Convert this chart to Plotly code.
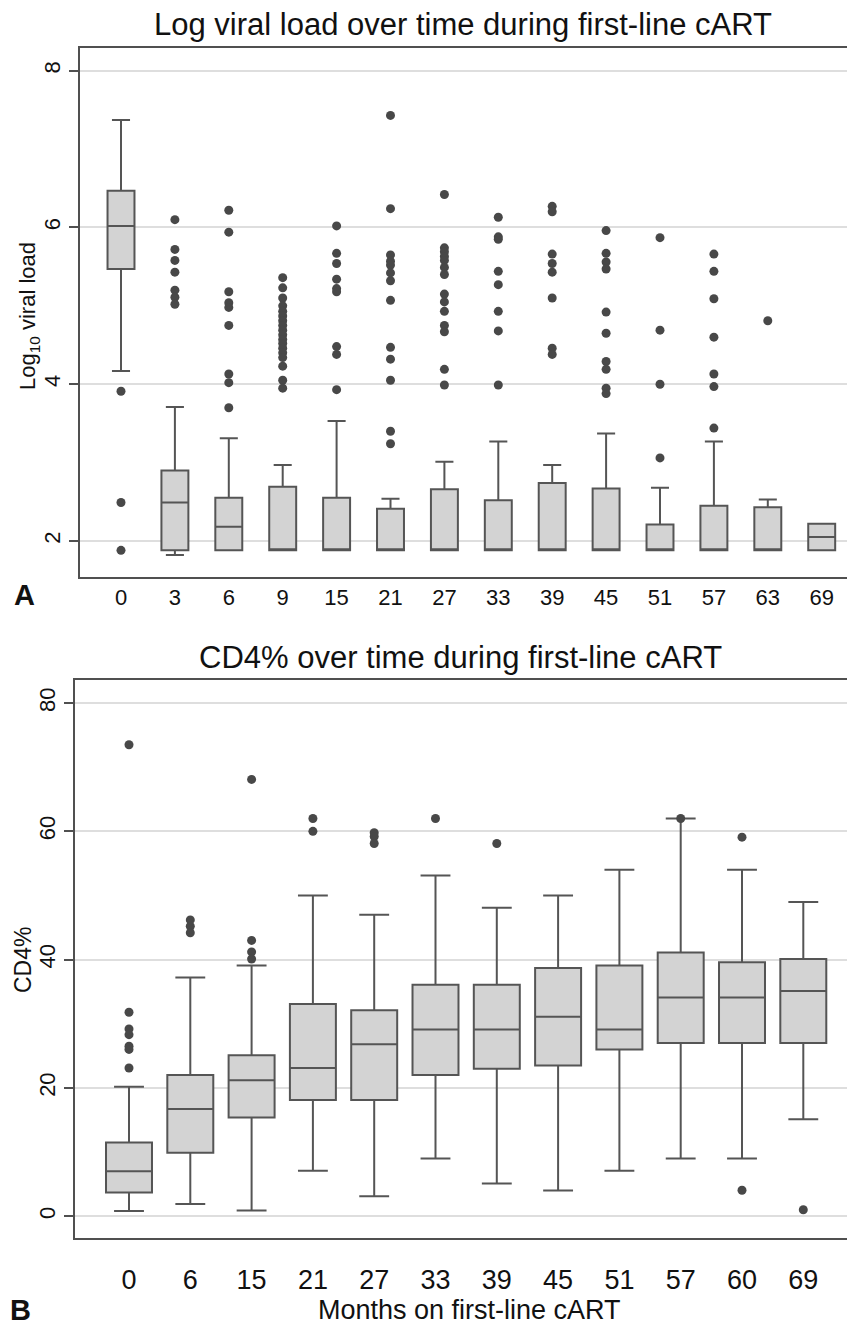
import plotly.graph_objects as go

# ---------------- Panel A: log10 viral load ----------------
months_a = ["0", "3", "6", "9", "15", "21", "27", "33", "39", "45", "51", "57", "63", "69"]
vl_q1 = [5.47, 1.88, 1.88, 1.88, 1.88, 1.88, 1.88, 1.88, 1.88, 1.88, 1.88, 1.88, 1.88, 1.88]
vl_median = [6.02, 2.49, 2.18, 1.88, 1.88, 1.88, 1.88, 1.88, 1.88, 1.88, 1.88, 1.88, 1.88, 2.05]
vl_q3 = [6.47, 2.90, 2.55, 2.69, 2.55, 2.41, 2.66, 2.52, 2.74, 2.67, 2.21, 2.45, 2.43, 2.22]
vl_lower = [4.17, 1.82, 1.88, 1.88, 1.88, 1.88, 1.88, 1.88, 1.88, 1.88, 1.88, 1.88, 1.88, 1.88]
vl_upper = [7.37, 3.71, 3.31, 2.97, 3.53, 2.54, 3.01, 3.27, 2.97, 3.37, 2.68, 3.27, 2.53, 2.22]
vl_outliers = [
    [3.91, 2.49, 1.88],
    [6.10, 5.72, 5.58, 5.43, 5.20, 5.11, 5.02],
    [6.22, 5.94, 5.18, 5.04, 4.98, 4.75, 4.13, 4.02, 3.70],
    [5.36, 5.23, 5.10, 5.00, 4.93, 4.87, 4.81, 4.75, 4.69, 4.63, 4.57, 4.52, 4.46, 4.40, 4.34, 4.23, 4.05, 3.95],
    [6.02, 5.67, 5.54, 5.34, 5.22, 5.18, 4.48, 4.38, 3.93],
    [7.43, 6.24, 5.65, 5.57, 5.52, 5.42, 5.32, 5.07, 4.47, 4.32, 4.05, 3.40, 3.24],
    [6.42, 5.74, 5.69, 5.63, 5.58, 5.49, 5.40, 5.15, 5.05, 4.93, 4.75, 4.67, 4.19, 3.99],
    [6.13, 5.88, 5.85, 5.44, 5.27, 4.93, 4.68, 3.99],
    [6.27, 6.20, 5.66, 5.54, 5.43, 5.10, 4.46, 4.38],
    [5.96, 5.67, 5.56, 5.47, 4.92, 4.65, 4.29, 4.19, 3.95, 3.88],
    [5.87, 4.69, 4.00, 3.06],
    [5.66, 5.44, 5.09, 4.60, 4.13, 3.97, 3.44],
    [4.81],
    [],
]
vl_ticks = [2, 4, 6, 8]

# ---------------- Panel B: CD4% ----------------
months_b = ["0", "6", "15", "21", "27", "33", "39", "45", "51", "57", "60", "69"]
cd4_q1 = [3.7, 9.9, 15.4, 18.1, 18.1, 22.0, 23.0, 23.5, 26.0, 27.0, 27.0, 27.0]
cd4_median = [7.0, 16.7, 21.2, 23.1, 26.8, 29.1, 29.1, 31.1, 29.1, 34.1, 34.1, 35.1]
cd4_q3 = [11.5, 22.0, 25.1, 33.1, 32.1, 36.1, 36.1, 38.7, 39.1, 41.1, 39.6, 40.1]
cd4_lower = [0.8, 1.9, 0.9, 7.1, 3.1, 9.0, 5.1, 4.0, 7.1, 9.0, 9.0, 15.1]
cd4_upper = [20.2, 37.2, 39.1, 50.0, 47.0, 53.1, 48.1, 50.0, 54.0, 62.0, 54.0, 49.0]
cd4_outliers = [
    [73.5, 31.8, 29.2, 28.3, 26.5, 26.0, 23.1],
    [46.2, 45.2, 44.2],
    [68.1, 43.0, 41.2, 40.1],
    [62.0, 60.0],
    [59.8, 59.2, 58.1],
    [62.0],
    [58.1],
    [],
    [],
    [62.0],
    [59.1, 4.05],
    [1.0],
]
cd4_ticks = [0, 20, 40, 60, 80]

# ---------------- styling ----------------
PAGE_W, PAGE_H = 855, 1325
OFF = 8  # default body margin of the html page
W, H = PAGE_W - OFF, PAGE_H - OFF
FONT = "Liberation Sans, Arial, Helvetica, sans-serif"
BOX_FILL = "rgb(211,211,211)"
BOX_LINE = "rgb(85,85,85)"
DOT = "rgb(72,72,72)"
GRID = "rgb(222,222,222)"
AXIS = "rgb(80,80,80)"


def px_x(p):
    return (p - OFF) / W


def px_y(p):
    return 1 - (p - OFF) / H


fig = go.Figure()

# Panel A boxes
idx_a = list(range(len(months_a)))
fig.add_trace(go.Box(
    x=idx_a, q1=vl_q1, median=vl_median, q3=vl_q3,
    lowerfence=vl_lower, upperfence=vl_upper,
    width=0.5, whiskerwidth=0.67, boxpoints=False,
    fillcolor=BOX_FILL, line=dict(color=BOX_LINE, width=2),
    xaxis="x", yaxis="y", hoverinfo="skip", showlegend=False,
))
ox, oy = [], []
for i, vals in enumerate(vl_outliers):
    ox += [i] * len(vals)
    oy += vals
fig.add_trace(go.Scatter(
    x=ox, y=oy, mode="markers", marker=dict(color=DOT, size=9),
    xaxis="x", yaxis="y", hoverinfo="skip", showlegend=False,
))

# Panel B boxes
idx_b = list(range(len(months_b)))
fig.add_trace(go.Box(
    x=idx_b, q1=cd4_q1, median=cd4_median, q3=cd4_q3,
    lowerfence=cd4_lower, upperfence=cd4_upper,
    width=0.75, whiskerwidth=0.65, boxpoints=False,
    fillcolor=BOX_FILL, line=dict(color=BOX_LINE, width=2),
    xaxis="x2", yaxis="y2", hoverinfo="skip", showlegend=False,
))
ox, oy = [], []
for i, vals in enumerate(cd4_outliers):
    ox += [i] * len(vals)
    oy += vals
fig.add_trace(go.Scatter(
    x=ox, y=oy, mode="markers", marker=dict(color=DOT, size=9),
    xaxis="x2", yaxis="y2", hoverinfo="skip", showlegend=False,
))

# axis geometry (page pixels)
A_left, A_right, A_top, A_bottom = 80, 855, 48, 577
B_left, B_right, B_top, B_bottom = 75, 855, 680, 1238
A_c0, A_step = 121, 53.9
B_c0, B_step = 129, 61.3

common_x = dict(
    showgrid=False, zeroline=False, showline=True, linecolor=AXIS, linewidth=2,
    mirror=True, ticks="outside", tickcolor="rgba(0,0,0,0)",
    tickfont=dict(family=FONT, size=22, color="#111"),
)
common_y = dict(
    showgrid=True, gridcolor=GRID, gridwidth=1.5, zeroline=False,
    showline=True, linecolor=AXIS, linewidth=2, ticks="outside",
    ticklen=9, tickwidth=1.5, tickcolor=AXIS, tickangle=-90,
    tickfont=dict(family=FONT, size=22, color="#111"),
)

fig.update_layout(
    width=W, height=H, margin=dict(l=0, r=0, t=0, b=0),
    paper_bgcolor="white", plot_bgcolor="white", showlegend=False,
    xaxis=dict(
        common_x, domain=[px_x(A_left), 1.0], anchor="y",
        range=[(A_left - A_c0) / A_step, (A_right - A_c0) / A_step],
        tickvals=idx_a, ticktext=months_a, ticklen=0,
    ),
    yaxis=dict(
        common_y, domain=[px_y(A_bottom), px_y(A_top)], anchor="x",
        range=[1.54, 8.29], tickvals=vl_ticks,
    ),
    xaxis2=dict(
        common_x, domain=[px_x(B_left), 1.0], anchor="y2",
        range=[(B_left - B_c0) / B_step, (B_right - B_c0) / B_step],
        tickvals=idx_b, ticktext=months_b, ticklen=17,
        tickfont=dict(family=FONT, size=27, color="#111"),
    ),
    yaxis2=dict(
        common_y, domain=[px_y(B_bottom), px_y(B_top)], anchor="x2",
        range=[-3.4, 83.6], tickvals=cd4_ticks,
    ),
)

ann = [
    dict(text="Log viral load over time during first-line cART", x=463, y=24, size=31, angle=0),
    dict(text="CD4% over time during first-line cART", x=460, y=657, size=31, angle=0),
    dict(text="Log<sub>10</sub> viral load", x=29, y=316, size=22, angle=-90),
    dict(text="CD4%", x=23, y=960, size=23, angle=-90),
    dict(text="Months on first-line cART", x=469, y=1310, size=27, angle=0),
    dict(text="<b>A</b>", x=24, y=595, size=29, angle=0),
    dict(text="<b>B</b>", x=20, y=1310, size=29, angle=0),
]
for a in ann:
    fig.add_annotation(
        text=a["text"], x=px_x(a["x"]), y=px_y(a["y"]), xref="paper", yref="paper",
        xanchor="center", yanchor="middle", showarrow=False, textangle=a["angle"],
        font=dict(family=FONT, size=a["size"], color="#111"),
    )

fig.write_html("out.html")
